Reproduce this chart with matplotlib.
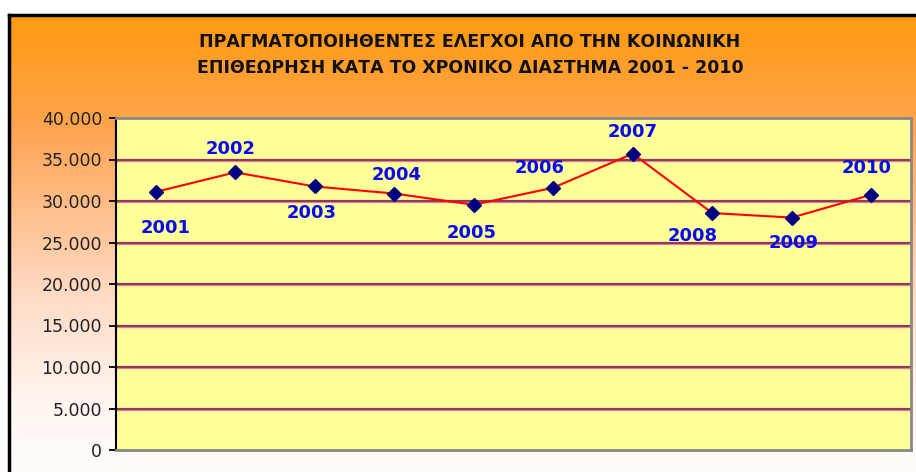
import numpy as np
import matplotlib.pyplot as plt
from matplotlib.colors import LinearSegmentedColormap

# data
years = ['2001', '2002', '2003', '2004', '2005', '2006', '2007', '2008', '2009', '2010']
inspections = [31100, 33450, 31750, 30900, 29550, 31600, 35700, 28550, 28000, 30750]
y_ticks = [0, 5000, 10000, 15000, 20000, 25000, 30000, 35000, 40000]
y_tick_labels = ['0', '5.000', '10.000', '15.000', '20.000', '25.000', '30.000', '35.000', '40.000']
title = ('ΠΡΑΓΜΑΤΟΠΟΙΗΘΕΝΤΕΣ ΕΛΕΓΧΟΙ ΑΠΟ ΤΗΝ ΚΟΙΝΩΝΙΚΗ\n'
         'ΕΠΙΘΕΩΡΗΣΗ ΚΑΤΑ ΤΟ ΧΡΟΝΙΚΟ ΔΙΑΣΤΗΜΑ 2001 - 2010')

# where each year label sits relative to its point (pixels, +y is up)
label_dx = [10, -5, -3, 2, -2, -14, 0, -20, 2, -5]
label_dy = [-36, 23, -27, 19, -28, 20, 22, -23, -25, 27]

W, H = 916, 472
fig = plt.figure(figsize=(W / 100, H / 100), dpi=100)
fig.patch.set_facecolor('white')

# orange gradient chart area with black frame
bg = fig.add_axes([9 / W, 0, 1 - 9 / W, 1 - 15 / H])
grad = LinearSegmentedColormap.from_list(
    'bg', [(0.0, '#FF9A0E'), (0.25, '#FFA452'), (0.6, '#FFD9C2'), (0.85, '#FFF5F0'), (1.0, '#FFFCFB')])
bg.imshow(np.linspace(0, 1, 256).reshape(-1, 1), aspect='auto', cmap=grad,
          extent=[0, 1, 0, 1], origin='upper')
bg.set_xlim(0, 1)
bg.set_ylim(0, 1)
bg.set_xticks([])
bg.set_yticks([])
for side, sp in bg.spines.items():
    sp.set_visible(side in ('left', 'top'))
    sp.set_color('black')
    sp.set_linewidth(2.5)

fig.text(470 / W, 1 - 55 / H, title, ha='center', va='center', family='DejaVu Sans',
         fontweight='bold', fontsize=12.5, color='#111111', linespacing=1.6)

# plot area
left, right, top, bottom = 116, 911, 118, 450
ax = fig.add_axes([left / W, 1 - bottom / H, (right - left) / W, (bottom - top) / H])
ax.set_facecolor('#FFFF99')
x = np.arange(len(years))
ax.set_xlim(-0.5, len(years) - 0.5)
ax.set_ylim(0, 40000)

for t in y_ticks[1:-1]:
    ax.axhline(t, color='#D08898', lw=2.4, zorder=1)
    ax.axhline(t, color='#802050', lw=1.1, zorder=1)

ax.plot(x, inspections, color='#FF0000', lw=1.5, zorder=3)
ax.plot(x, inspections, linestyle='none', marker='D', markersize=7.5,
        color='#000080', zorder=4)

px = 72 / 100  # pixels -> points
for xi, v, yr, dx, dy in zip(x, inspections, years, label_dx, label_dy):
    ax.annotate(yr, (xi, v), xytext=(dx * px, dy * px), textcoords='offset points',
                ha='center', va='center', fontsize=13, fontweight='bold',
                color='#0A0AF0', family='DejaVu Sans', zorder=5)

ax.set_xticks([])
ax.set_yticks(y_ticks)
ax.set_yticklabels(y_tick_labels, fontsize=12.5, color='#222222')
ax.tick_params(axis='y', direction='out', length=5, width=1.3, color='black', pad=5)
ax.spines['left'].set_color('black')
ax.spines['left'].set_linewidth(1.5)
for side in ('top', 'right', 'bottom'):
    ax.spines[side].set_color('#888888')
    ax.spines[side].set_linewidth(2)

fig.savefig('out.png', dpi=100)
